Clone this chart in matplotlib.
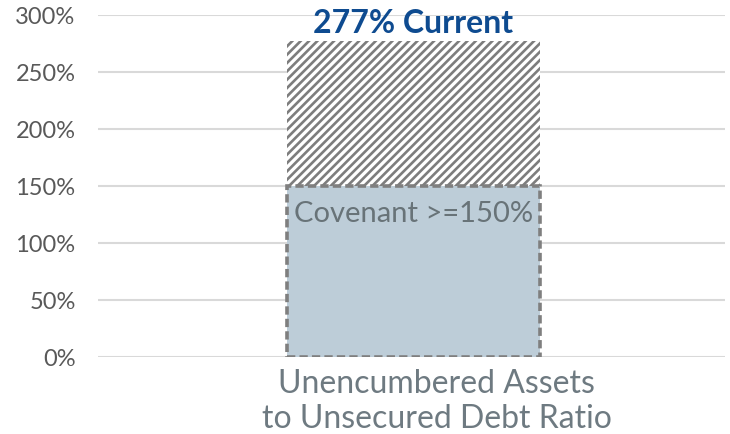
import matplotlib
matplotlib.use("Agg")
import matplotlib.pyplot as plt
from matplotlib.ticker import FuncFormatter

# Data
category = "Unencumbered Assets\nto Unsecured Debt Ratio"
current_ratio = 277      # percent
covenant_ratio = 150     # percent
y_ticks = [0, 50, 100, 150, 200, 250, 300]

plt.rcParams["font.family"] = ["Lato", "DejaVu Sans"]
plt.rcParams["hatch.linewidth"] = 1.9

fig = plt.figure(figsize=(7.3, 4.34), dpi=100)
ax = fig.add_axes([0.134, 0.177, 0.859, 0.788])

# Current ratio: hatched bar
ax.bar(0, current_ratio, width=0.403, color="white", edgecolor="#7d7d7d",
       hatch="////", linewidth=0, zorder=2)
# Covenant threshold: filled bar with dashed outline
ax.bar(0, covenant_ratio, width=0.403, color="#bdcdd8", edgecolor="#7f7f7f",
       linewidth=2.6, linestyle=(0, (2.3, 1.15)), zorder=3)

ax.annotate(f"{current_ratio}% Current", xy=(0, current_ratio), xytext=(0, 6),
            textcoords="offset points", ha="center", va="baseline",
            fontsize=23, fontweight="bold", color="#0e4b90", zorder=4)
ax.annotate(f"Covenant >={covenant_ratio}%", xy=(0, covenant_ratio), xytext=(0, -11),
            textcoords="offset points", ha="center", va="top",
            fontsize=21, color="#687378", zorder=4)

ax.set_xlim(-0.503, 0.497)
ax.set_ylim(0, 300)
ax.set_yticks(y_ticks)
ax.yaxis.set_major_formatter(FuncFormatter(lambda v, p: f"{v:.0f}%"))
ax.tick_params(axis="y", length=0, pad=16, labelsize=17, labelcolor="#595959")
ax.set_xticks([])
ax.grid(axis="y", color="#d9d9d9", linewidth=1.5, zorder=0)
ax.set_axisbelow(True)
for s in ax.spines.values():
    s.set_visible(False)

ax.text(0.037, -0.035, category, transform=ax.get_xaxis_transform(),
        ha="center", va="top", fontsize=23, color="#6e7a81", linespacing=1.2)

fig.savefig("out.png", dpi=100)
